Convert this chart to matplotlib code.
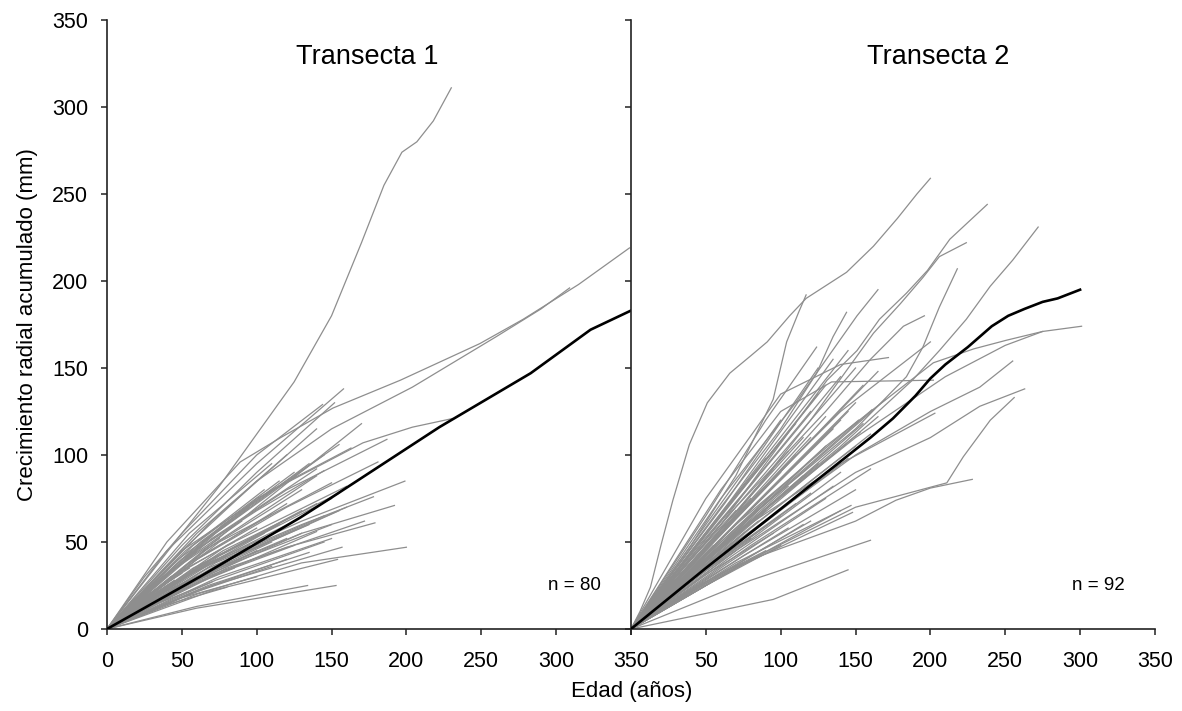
import matplotlib
matplotlib.use("Agg")
import matplotlib.pyplot as plt

plt.rcParams["font.family"] = ["Liberation Sans", "DejaVu Sans"]

# Transecta 1: individual trees, (edad, crecimiento acumulado) knots
t1_long = [
    [(0, 0), (25, 30), (50, 55), (75, 82), (100, 112), (125, 142), (150, 180),
     (170, 222), (185, 255), (197, 274), (207, 280), (218, 292), (230, 311)],
    [(0, 0), (40, 50), (89, 96), (116, 110), (151, 127), (196, 143), (249, 164),
     (278, 178), (315, 198), (349, 219)],
    [(0, 0), (50, 45), (100, 85), (150, 115), (204, 139), (260, 168), (290, 184),
     (309, 196)],
    [(0, 0), (50, 40), (100, 75), (171, 107), (204, 116), (231, 121)],
    [(0, 0), (40, 45), (100, 95), (158, 138)],
    [(0, 0), (50, 48), (100, 90), (152, 130)],
    [(0, 0), (50, 55), (100, 100), (144, 129)],
    [(0, 0), (50, 35), (100, 70), (170, 118)],
    [(0, 0), (50, 40), (120, 80), (187, 109)],
    [(0, 0), (60, 40), (120, 70), (181, 96)],
    [(0, 0), (60, 35), (130, 62), (199, 85)],
    [(0, 0), (60, 30), (130, 55), (192, 71)],
    [(0, 0), (60, 28), (120, 47), (179, 61)],
    [(0, 0), (80, 35), (172, 62)],
    [(0, 0), (60, 20), (130, 38), (200, 47)],
    [(0, 0), (50, 45), (110, 80), (163, 104)],
    [(0, 0), (50, 40), (100, 68), (145, 91)],
    [(0, 0), (60, 12), (153, 25)],
    [(0, 0), (60, 13), (134, 25)],
    [(0, 0), (70, 22), (154, 40)],
    [(0, 0), (70, 25), (157, 47)],
    [(0, 0), (70, 38), (130, 60), (178, 76)],
]
# shorter trees: (edad final, valor a media edad, valor final)
t1_short = [
    (45, 15, 28), (50, 18, 32), (55, 20, 35), (60, 18, 30), (60, 25, 45),
    (65, 20, 38), (70, 22, 40), (70, 15, 27), (75, 30, 52), (80, 25, 42),
    (80, 14, 24), (85, 30, 50), (85, 20, 35), (90, 35, 62), (90, 22, 40),
    (95, 28, 48), (95, 40, 70), (100, 25, 45), (100, 33, 58), (100, 18, 30),
    (105, 30, 55), (105, 45, 80), (110, 28, 50), (110, 38, 66), (110, 20, 36),
    (115, 35, 60), (115, 48, 85), (120, 30, 52), (120, 40, 72), (120, 22, 40),
    (125, 35, 62), (125, 50, 90), (125, 28, 48), (130, 38, 68), (130, 30, 55),
    (130, 45, 80), (135, 35, 60), (135, 25, 44), (135, 52, 95), (140, 40, 72),
    (140, 30, 56), (140, 48, 88), (145, 38, 65), (145, 28, 50), (145, 55, 100),
    (150, 42, 75), (150, 35, 60), (150, 30, 52), (150, 50, 84), (155, 45, 78),
    (155, 38, 68), (155, 60, 106), (160, 48, 82), (160, 40, 70), (120, 55, 100),
    (110, 55, 95), (140, 62, 115), (140, 52, 92),
]
t1_mean = [(0, 0), (62, 30), (129, 64), (149, 75), (222, 116), (283, 147),
           (323, 172), (350, 183)]

# Transecta 2
t2_long = [
    [(0, 0), (6, 10), (13, 24), (20, 48), (28, 74), (39, 106), (51, 130), (66, 147),
     (80, 157), (91, 165), (106, 180), (117, 190), (126, 195), (144, 205),
     (162, 220), (178, 236), (191, 250), (200, 259)],
    [(0, 0), (40, 48), (70, 88), (95, 132), (104, 165), (112, 182), (117, 192)],
    [(0, 0), (60, 60), (131, 143), (151, 160), (166, 178), (184, 193), (198, 206),
     (213, 224), (238, 244)],
    [(0, 0), (60, 55), (120, 120), (162, 170), (180, 187), (195, 202), (206, 214),
     (224, 222)],
    [(0, 0), (80, 65), (150, 115), (184, 145), (195, 162), (206, 185), (218, 207)],
    [(0, 0), (80, 62), (140, 105), (188, 143), (206, 160), (224, 178), (240, 197),
     (255, 212), (272, 231)],
    [(0, 0), (60, 75), (110, 130), (151, 180), (165, 195)],
    [(0, 0), (60, 70), (100, 115), (124, 147), (135, 168), (144, 182)],
    [(0, 0), (70, 70), (130, 125), (160, 155), (182, 174), (196, 180)],
    [(0, 0), (50, 65), (90, 120), (124, 162)],
    [(0, 0), (70, 65), (140, 125), (200, 165)],
    [(0, 0), (50, 75), (100, 135), (140, 152), (172, 156)],
    [(0, 0), (60, 80), (100, 125), (134, 142), (202, 143)],
    [(0, 0), (60, 50), (130, 105), (202, 153), (229, 161), (251, 166), (275, 171),
     (301, 174)],
    [(0, 0), (70, 55), (150, 110), (210, 145), (250, 163), (275, 171)],
    [(0, 0), (70, 50), (150, 100), (200, 125), (233, 139), (255, 154)],
    [(0, 0), (70, 45), (150, 90), (200, 110), (233, 128), (263, 138)],
    [(0, 0), (80, 40), (150, 70), (211, 84), (222, 99), (240, 120), (256, 133)],
    [(0, 0), (80, 40), (150, 62), (177, 74), (200, 81), (228, 86)],
    [(0, 0), (70, 55), (140, 95), (203, 124)],
    [(0, 0), (95, 17), (145, 34)],
    [(0, 0), (80, 28), (160, 51)],
    [(0, 0), (70, 35), (148, 67)],
    [(0, 0), (70, 38), (147, 71)],
    [(0, 0), (70, 55), (153, 113)],
    [(0, 0), (70, 60), (152, 120)],
    [(0, 0), (80, 65), (161, 126)],
]
t2_short = [
    (50, 20, 40), (55, 25, 48), (60, 22, 42), (60, 30, 60), (65, 28, 52),
    (70, 25, 45), (70, 35, 68), (75, 30, 58), (75, 20, 38), (80, 38, 75),
    (80, 28, 52), (85, 32, 62), (85, 45, 88), (90, 35, 68), (90, 25, 45),
    (90, 50, 98), (95, 40, 78), (95, 30, 55), (100, 45, 90), (100, 35, 65),
    (100, 25, 48), (100, 55, 108), (105, 42, 82), (105, 30, 58), (110, 50, 100),
    (110, 38, 72), (110, 60, 118), (115, 45, 88), (115, 30, 60), (120, 55, 110),
    (120, 40, 78), (120, 62, 125), (120, 32, 62), (125, 48, 95), (125, 68, 135),
    (130, 52, 105), (130, 38, 75), (130, 70, 140), (135, 58, 115), (135, 42, 82),
    (140, 60, 120), (140, 45, 90), (140, 72, 145), (140, 35, 68), (145, 62, 125),
    (145, 50, 98), (150, 65, 130), (150, 55, 105), (150, 75, 150), (150, 42, 80),
    (155, 60, 118), (155, 70, 140), (160, 58, 112), (160, 48, 92), (165, 75, 148),
    (165, 62, 122), (170, 68, 132), (130, 60, 122), (115, 55, 110), (105, 50, 102),
    (95, 45, 92), (125, 72, 150), (145, 80, 160), (100, 60, 120), (135, 75, 155),
]
t2_mean = [(0, 0), (50, 35), (100, 69), (160, 110), (175, 121), (190, 134),
           (200, 144), (210, 152), (225, 162), (241, 174), (252, 180), (263, 184),
           (275, 188), (285, 190), (300, 195)]

panels = [
    ("Transecta 1", t1_long, t1_short, t1_mean, "n = 80", 174),
    ("Transecta 2", t2_long, t2_short, t2_mean, "n = 92", 205),
]

gray = "#8e8e8e"
fig = plt.figure(figsize=(11.82, 7.11), dpi=100)
ax1 = fig.add_axes([0.0905, 0.1153, 0.4433, 0.8566])
ax2 = fig.add_axes([0.5338, 0.1153, 0.4433, 0.8566])

for ax, (title, longs, shorts, mean, ntext, tx) in zip([ax1, ax2], panels):
    for pts in longs:
        xs, ys = zip(*pts)
        ax.plot(xs, ys, color=gray, lw=0.9)
    for end, mid, yend in shorts:
        ax.plot([0, end / 2, end], [0, mid, yend], color=gray, lw=0.9)
    xs, ys = zip(*mean)
    ax.plot(xs, ys, color="black", lw=1.9, zorder=5)

    ax.set_xlim(0, 350)
    ax.set_ylim(0, 350)
    ax.set_xticks(range(0, 351, 50))
    ax.set_yticks(range(0, 351, 50))
    for s in ["top", "right"]:
        ax.spines[s].set_visible(False)
    for s in ["left", "bottom"]:
        ax.spines[s].set_linewidth(1.2)
        ax.spines[s].set_color("#222222")
    ax.tick_params(direction="out", length=4.5, width=1.1, color="#222222",
                   labelsize=15.5)
    ax.tick_params(axis="x", pad=11)
    ax.tick_params(axis="y", pad=9)
    ax.text(tx, 329, title, ha="center", va="center", fontsize=19.5)
    ax.text(312, 25, ntext, ha="center", va="center", fontsize=13.5)

ax2.set_yticklabels([])
ax2.set_xticklabels([""] + [str(v) for v in range(50, 351, 50)])
ax1.set_ylabel("Crecimiento radial acumulado (mm)", fontsize=16, labelpad=10)
fig.text(0.534, 0.027, "Edad (años)", ha="center", va="center", fontsize=16)

plt.savefig("out.png", dpi=100)
